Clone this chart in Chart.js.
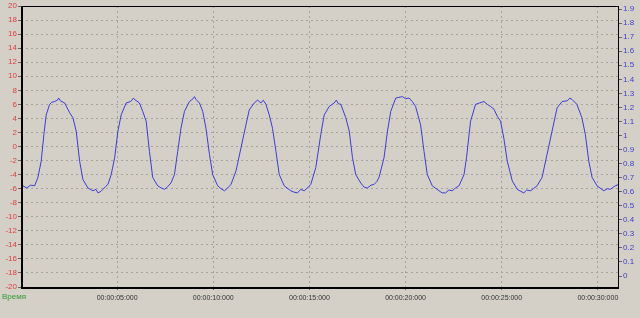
<!DOCTYPE html>
<html>
<head>
<meta charset="utf-8">
<script src="https://cdn.jsdelivr.net/npm/chart.js@4/dist/chart.umd.min.js"></script>
<style>
    html, body { margin: 0; padding: 0; background: #d4d0c8; }
    canvas { display: block; }
</style>
</head>
<body>
<canvas id="myChart" width="640" height="318"></canvas>
<script>
// seconds
var times = [
    0.00, 0.10, 0.30, 0.50, 0.71, 0.88, 1.05, 1.19, 1.31, 1.49, 1.60, 1.75, 1.90, 1.96, 2.05, 2.27, 2.40, 2.53, 2.70, 2.87,
    3.05, 3.22, 3.48, 3.74, 3.90, 4.00, 4.15, 4.26, 4.40, 4.52, 4.69, 4.87, 5.04, 5.21, 5.47, 5.70, 5.85, 5.90, 6.16, 6.33,
    6.51, 6.68, 6.85, 7.11, 7.30, 7.46, 7.60, 7.80, 7.98, 8.15, 8.32, 8.50, 8.76, 8.95, 9.02, 9.10, 9.28, 9.45, 9.62, 9.80,
    9.97, 10.23, 10.40, 10.58, 10.75, 10.92, 11.18, 11.44, 11.70, 11.87, 12.13, 12.30, 12.48, 12.60, 12.74, 12.91, 13.08, 13.26, 13.43, 13.69,
    14.03, 14.20, 14.38, 14.55, 14.73, 14.90, 15.07, 15.33, 15.59, 15.77, 16.03, 16.29, 16.40, 16.50, 16.63, 16.89, 17.07, 17.24, 17.41, 17.67,
    17.85, 18.02, 18.20, 18.36, 18.50, 18.62, 18.88, 19.06, 19.23, 19.49, 19.83, 20.00, 20.18, 20.35, 20.52, 20.78, 20.96, 21.13, 21.39, 21.74,
    21.90, 22.08, 22.25, 22.43, 22.60, 22.78, 23.04, 23.17, 23.38, 23.64, 23.85, 24.08, 24.25, 24.42, 24.60, 24.77, 24.94, 25.11, 25.29, 25.55,
    25.81, 26.00, 26.15, 26.30, 26.50, 26.65, 26.84, 27.10, 27.36, 27.62, 27.88, 28.14, 28.40, 28.55, 28.66, 28.91, 29.17, 29.35, 29.53, 29.70,
    29.96, 30.31, 30.50, 30.65, 30.80, 30.91, 31.08
];
var values = [
    -5.7, -5.6, -5.9, -5.5, -5.6, -4.4, -2.1, 1.7, 4.5, 6.0, 6.3, 6.4, 6.6, 6.9, 6.5, 6.2, 5.5, 4.8, 4.1, 2.2,
    -2.1, -4.7, -5.9, -6.3, -6.1, -6.6, -6.4, -6.1, -5.7, -5.4, -4.0, -1.6, 2.2, 4.5, 6.2, 6.4, 6.9, 6.7, 6.2, 5.0,
    3.6, -0.7, -4.4, -5.6, -5.9, -6.1, -5.8, -5.2, -4.0, -0.7, 2.6, 5.0, 6.4, 6.8, 7.1, 6.7, 6.2, 5.0, 2.6, -1.1,
    -4.0, -5.6, -6.0, -6.3, -5.9, -5.4, -3.5, -0.2, 3.1, 5.2, 6.2, 6.6, 6.2, 6.6, 6.0, 4.5, 2.6, -0.7, -4.0, -5.6,
    -6.3, -6.5, -6.6, -6.1, -6.3, -5.9, -5.4, -3.0, 1.7, 4.5, 5.7, 6.2, 6.6, 6.1, 6.0, 4.1, 2.2, -1.6, -4.0, -5.2,
    -5.8, -5.9, -5.5, -5.4, -5.0, -4.4, -1.6, 2.2, 5.0, 6.9, 7.1, 6.8, 6.9, 6.4, 5.7, 3.1, -0.7, -4.0, -5.6, -6.3,
    -6.6, -6.6, -6.2, -6.3, -5.9, -5.6, -4.0, -1.6, 3.6, 6.0, 6.2, 6.4, 6.0, 5.7, 5.3, 4.3, 3.6, 1.2, -2.1, -4.9,
    -6.1, -6.4, -6.6, -6.2, -6.3, -6.0, -5.6, -4.4, -1.1, 2.2, 5.5, 6.4, 6.5, 6.9, 6.7, 6.0, 4.1, 1.7, -2.1, -4.4,
    -5.6, -6.3, -6.0, -6.1, -5.8, -5.6, -5.4
];
var xTicks = [5, 10, 15, 20, 25, 30];
var rightTicks = [0, 0.1, 0.2, 0.3, 0.4, 0.5, 0.6, 0.7, 0.8, 0.9, 1, 1.1, 1.2, 1.3, 1.4, 1.5, 1.6, 1.7, 1.8, 1.9];

function pad2(n) {
    return (n < 10 ? '0' : '') + n;
}
function timeLabel(sec) {
    return '00:00:' + pad2(Math.round(sec)) + ':000';
}

var points = times.map(function (t, i) {
    return { x: t, y: values[i] };
});

var bgGray = '#d4d0c8';
var gridGray = '#a4a29c';
var xFont = { family: 'Liberation Sans', size: 7 };
var yFont = { family: 'Liberation Sans', size: 8 };

const framePlugin = {
    id: 'framePlugin',
    beforeDraw(chart) {
        const { ctx } = chart;
        ctx.save();
        ctx.fillStyle = bgGray;
        ctx.fillRect(0, 0, chart.width, chart.height);
        ctx.restore();
    },
    afterDatasetsDraw(chart) {
        const { ctx, chartArea } = chart;
        ctx.save();
        ctx.strokeStyle = '#000';
        ctx.lineWidth = 1;
        ctx.strokeRect(chartArea.left + 0.5, chartArea.top + 0.5, chartArea.right - chartArea.left - 1, chartArea.bottom - chartArea.top);
        ctx.lineWidth = 2;
        ctx.beginPath();
        ctx.moveTo(chartArea.left + 1, chartArea.top);
        ctx.lineTo(chartArea.left + 1, chartArea.bottom + 1);
        ctx.lineTo(chartArea.right, chartArea.bottom + 1);
        ctx.stroke();
        ctx.restore();
    },
    afterDraw(chart) {
        const { ctx } = chart;
        ctx.save();
        ctx.fillStyle = '#2e9a2e';
        ctx.font = '8px "Liberation Sans"';
        ctx.textBaseline = 'middle';
        ctx.fillText('Время', 2, 297);
        ctx.restore();
    }
};

new Chart(document.getElementById('myChart'), {
    type: 'line',
    data: {
        datasets: [{
            data: points,
            borderColor: '#3c3cdc',
            borderWidth: 1,
            pointRadius: 0,
            tension: 0,
            yAxisID: 'y'
        }]
    },
    options: {
        responsive: false,
        animation: false,
        layout: { padding: { top: 6, left: 0, right: 0, bottom: 0 } },
        plugins: {
            legend: { display: false },
            tooltip: { enabled: false }
        },
        scales: {
            x: {
                type: 'linear',
                min: 0,
                max: 31.1,
                afterBuildTicks: function (scale) {
                    scale.ticks = xTicks.map(function (v) { return { value: v }; });
                },
                afterFit: function (scale) { scale.height = 31; },
                border: { display: false, dash: [2, 3] },
                grid: { color: gridGray, tickColor: '#666', tickLength: 3 },
                ticks: {
                    color: '#333',
                    font: xFont,
                    padding: 4,
                    maxRotation: 0,
                    autoSkip: false,
                    callback: function (v) { return timeLabel(v); }
                }
            },
            y: {
                position: 'left',
                min: -20,
                max: 20,
                afterFit: function (scale) { scale.width = 21; },
                border: { display: false, dash: [2, 3] },
                grid: { color: gridGray, tickColor: '#666', tickLength: 3 },
                ticks: {
                    stepSize: 2,
                    color: '#e03c3c',
                    font: yFont,
                    padding: 1
                }
            },
            y1: {
                position: 'right',
                min: -0.078,
                max: 1.922,
                afterBuildTicks: function (scale) {
                    scale.ticks = rightTicks.map(function (v) { return { value: v }; });
                },
                afterFit: function (scale) { scale.width = 21; },
                border: { display: false },
                grid: { drawOnChartArea: false, tickColor: '#666', tickLength: 3 },
                ticks: {
                    color: '#3c3cd0',
                    font: yFont,
                    padding: 1,
                    callback: function (v) { return String(Math.round(v * 10) / 10); }
                }
            }
        }
    },
    plugins: [framePlugin]
});
</script>
</body>
</html>
